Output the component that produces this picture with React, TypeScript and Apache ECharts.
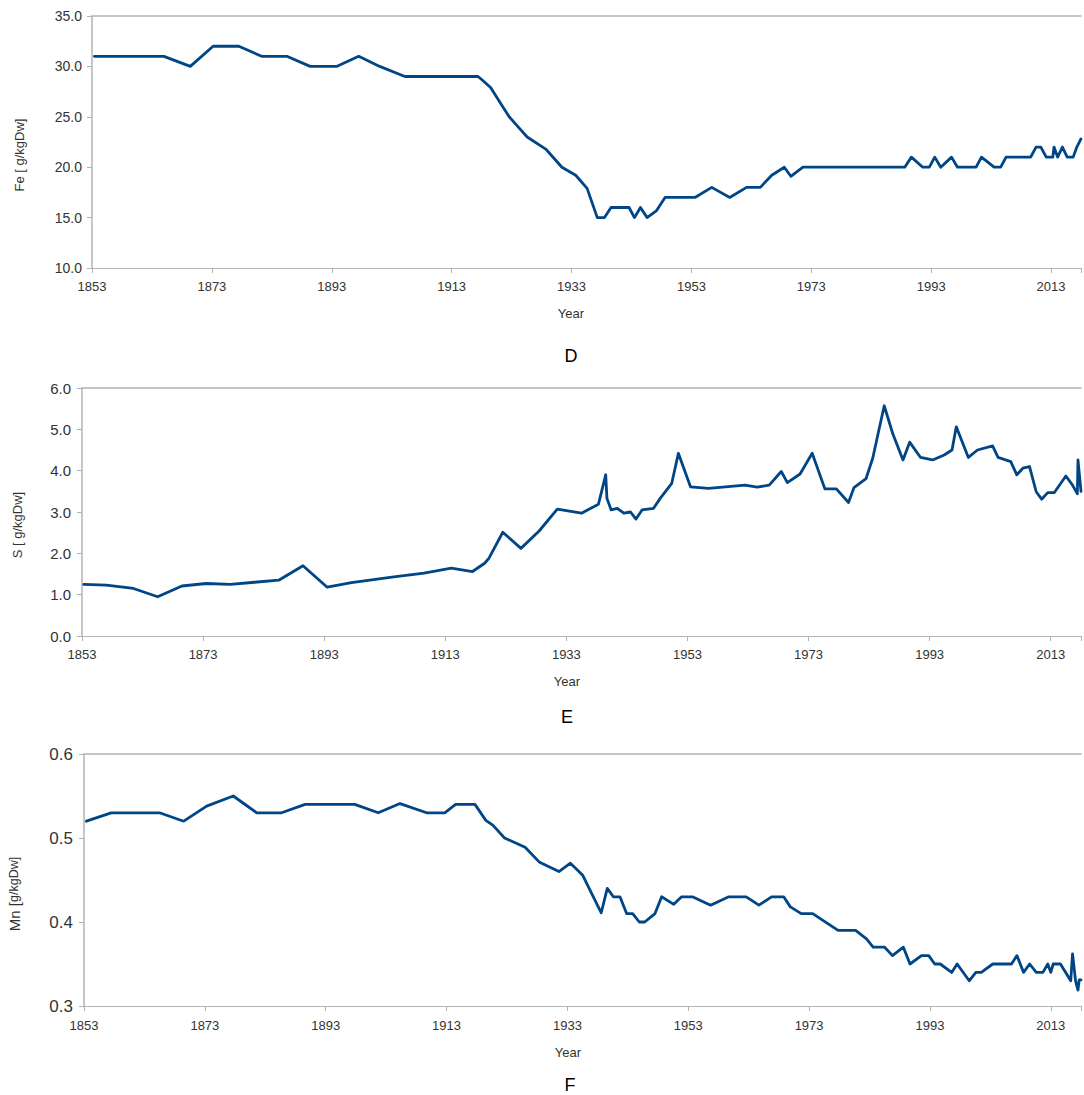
import React, { useEffect, useRef } from "react";
import * as echarts from "echarts";

// ---------- data ----------
const X_START = 1853;
const X_END = 2018;
const X_TICK_STEP = 20;

const FE_POINTS: [number, number][] = [
  [1853.4, 31], [1865, 31], [1869.4, 30], [1873.2, 32], [1877.5, 32], [1881.3, 31], [1885.5, 31],
  [1889.4, 30], [1893.8, 30], [1897.5, 31], [1901, 30], [1905.2, 29], [1917.4, 29], [1918, 28.7],
  [1919.5, 27.9], [1921, 26.5], [1922.6, 25], [1923.8, 24.2], [1925.6, 23], [1928.7, 21.8],
  [1931.4, 20], [1933.7, 19.2], [1935.6, 17.9], [1937.3, 15], [1938.5, 15], [1939.6, 16],
  [1942.6, 16], [1943.5, 15], [1944.5, 16], [1945.6, 15], [1947.2, 15.7], [1948.6, 17],
  [1953.6, 17], [1956.4, 18], [1959.4, 17], [1962.2, 18], [1964.5, 18], [1966.4, 19.2],
  [1968.5, 20], [1969.6, 19.1], [1971.6, 20], [1988.6, 20], [1989.7, 21], [1991.6, 20],
  [1992.7, 20], [1993.6, 21], [1994.6, 20], [1996.4, 21], [1997.4, 20], [2000.5, 20],
  [2001.4, 21], [2003.5, 20], [2004.6, 20], [2005.5, 21], [2009.6, 21], [2010.5, 22],
  [2011.3, 22], [2012.2, 21], [2013.3, 21], [2013.5, 22], [2014.1, 21], [2014.9, 22],
  [2015.7, 21], [2016.7, 21], [2017.3, 22], [2018, 22.8],
];

const S_POINTS: [number, number][] = [
  [1853.3, 1.25], [1857, 1.23], [1861.5, 1.15], [1865.5, 0.95], [1869.5, 1.21], [1873.5, 1.27],
  [1877.5, 1.25], [1881.5, 1.3], [1885.5, 1.35], [1889.5, 1.7], [1893.5, 1.18], [1897.5, 1.29],
  [1904.5, 1.43], [1909.5, 1.52], [1914, 1.64], [1917.5, 1.56], [1919.5, 1.76], [1920.2, 1.88],
  [1922.5, 2.51], [1925.5, 2.12], [1928.5, 2.54], [1931.5, 3.07], [1935.5, 2.97], [1938.3, 3.19],
  [1939.5, 3.9], [1939.7, 3.33], [1940.4, 3.05], [1941.4, 3.09], [1942.5, 2.97], [1943.6, 3.0],
  [1944.5, 2.83], [1945.5, 3.05], [1947.4, 3.09], [1948.5, 3.33], [1950.4, 3.69], [1951.5, 4.42],
  [1953.5, 3.61], [1956.5, 3.57], [1962.5, 3.65], [1964.5, 3.6], [1966.5, 3.65], [1968.5, 3.98],
  [1969.5, 3.71], [1971.6, 3.92], [1973.6, 4.42], [1975.7, 3.56], [1977.6, 3.56], [1979.6, 3.23],
  [1980.5, 3.59], [1982.5, 3.81], [1983.6, 4.3], [1985.5, 5.57], [1986.9, 4.9], [1988.6, 4.26],
  [1989.7, 4.69], [1991.5, 4.32], [1993.5, 4.26], [1995.4, 4.38], [1996.7, 4.5], [1997.4, 5.06],
  [1999.4, 4.32], [2000.9, 4.5], [2003.4, 4.6], [2004.3, 4.32], [2006.4, 4.22], [2007.4, 3.9],
  [2008.4, 4.06], [2009.5, 4.1], [2010.6, 3.49], [2011.5, 3.31], [2012.5, 3.47], [2013.6, 3.47],
  [2015.5, 3.87], [2016.6, 3.65], [2017.4, 3.44], [2017.5, 4.26], [2018, 3.5],
];

const MN_POINTS: [number, number][] = [
  [1853.4, 0.52], [1857.5, 0.53], [1865.5, 0.53], [1869.5, 0.52], [1873.3, 0.538], [1877.7, 0.55],
  [1881.6, 0.53], [1885.7, 0.53], [1889.6, 0.54], [1897.8, 0.54], [1901.7, 0.53], [1905.3, 0.541],
  [1909.7, 0.53], [1912.7, 0.53], [1914.5, 0.54], [1917.7, 0.54], [1919.5, 0.521], [1920.7, 0.515],
  [1922.6, 0.5], [1926, 0.489], [1928.4, 0.471], [1931.6, 0.46], [1933.5, 0.47], [1935.5, 0.456],
  [1938.6, 0.411], [1939.6, 0.44], [1940.6, 0.43], [1941.7, 0.43], [1942.8, 0.41], [1943.8, 0.41],
  [1944.9, 0.4], [1945.8, 0.4], [1947.5, 0.41], [1948.6, 0.43], [1950.6, 0.421], [1951.9, 0.43],
  [1953.7, 0.43], [1956.7, 0.42], [1959.7, 0.43], [1962.6, 0.43], [1964.7, 0.42], [1966.8, 0.43],
  [1968.8, 0.43], [1969.9, 0.418], [1971.7, 0.41], [1973.6, 0.41], [1976.1, 0.398], [1977.8, 0.39],
  [1980.7, 0.39], [1982.5, 0.38], [1983.6, 0.37], [1985.5, 0.37], [1986.8, 0.36], [1988.6, 0.37],
  [1989.7, 0.35], [1991.6, 0.36], [1992.8, 0.36], [1993.8, 0.35], [1994.7, 0.35], [1996.6, 0.34],
  [1997.5, 0.35], [1999.5, 0.33], [2000.6, 0.34], [2001.5, 0.34], [2003.4, 0.35], [2006.5, 0.35],
  [2007.4, 0.36], [2008.5, 0.34], [2009.5, 0.35], [2010.6, 0.34], [2011.7, 0.34], [2012.5, 0.35],
  [2013, 0.34], [2013.4, 0.35], [2014.6, 0.35], [2016.3, 0.33], [2016.6, 0.362], [2017.1, 0.33],
  [2017.5, 0.319], [2017.7, 0.331], [2018, 0.331],
];

const FE_Y = { min: 10, max: 35, interval: 5 };
const S_Y = { min: 0, max: 6, interval: 1 };
const MN_Y = { min: 0.3, max: 0.6, interval: 0.1 };

const X_TITLE = "Year";
const PANEL_LETTERS = ["D", "E", "F"];

// ---------- layout / style ----------
const LINE_COLOR = "#004586";
const AXIS_COLOR = "#b3b3b3";
const TEXT_COLOR = "#333333";
const FONT = "Liberation Sans, Arial, sans-serif";

type Panel = {
  points: [number, number][];
  y: { min: number; max: number; interval: number };
  left: number;
  top: number;
  height: number;
  yLabelSize: number;
  yLabelMargin: number;
  xLabelMargin: number;
  title: any;
  titleX: number;
  titleY: number;
  yearX: number;
  yearY: number;
  letterX: number;
  letterY: number;
};

const PANELS: Panel[] = [
  {
    points: FE_POINTS, y: FE_Y, left: 92, top: 16, height: 252,
    yLabelSize: 14, yLabelMargin: 10, xLabelMargin: 12,
    title: { text: "Fe [ g/kgDw]", fontSize: 13 },
    titleX: 19, titleY: 155, yearX: 571, yearY: 313, letterX: 571, letterY: 356,
  },
  {
    points: S_POINTS, y: S_Y, left: 82, top: 388, height: 248,
    yLabelSize: 15, yLabelMargin: 11, xLabelMargin: 12,
    title: { text: "S [ g/kgDw]", fontSize: 13 },
    titleX: 17, titleY: 525, yearX: 567, yearY: 681, letterX: 567, letterY: 717,
  },
  {
    points: MN_POINTS, y: MN_Y, left: 84, top: 754, height: 252,
    yLabelSize: 17, yLabelMargin: 11, xLabelMargin: 13,
    title: {
      text: "{a|Mn [}{b|g/kgDw]}",
      rich: {
        a: { fontSize: 15, fontFamily: FONT, fill: TEXT_COLOR },
        b: { fontSize: 12.5, fontFamily: FONT, fill: TEXT_COLOR },
      },
    },
    titleX: 14, titleY: 894, yearX: 568, yearY: 1052, letterX: 570, letterY: 1085,
  },
];

function buildOption() {
  const grid: any[] = [];
  const xAxis: any[] = [];
  const yAxis: any[] = [];
  const series: any[] = [];
  const graphic: any[] = [];

  PANELS.forEach((p, i) => {
    grid.push({ left: p.left, top: p.top, right: 0, height: p.height, containLabel: false });
    const span = X_END - X_START;
    xAxis.push({
      type: "value", gridIndex: i, min: 0, max: span, interval: X_TICK_STEP,
      axisLine: { show: true, lineStyle: { color: AXIS_COLOR, width: 1 } },
      axisTick: { show: true, length: 5, lineStyle: { color: AXIS_COLOR } },
      splitLine: { show: false },
      axisLabel: {
        margin: p.xLabelMargin, color: TEXT_COLOR, fontSize: 13, fontFamily: FONT,
        formatter: (v: number) => (Math.round(v) % X_TICK_STEP === 0 && v < span ? String(X_START + v) : ""),
      },
    });
    // top border line
    xAxis.push({
      type: "value", gridIndex: i, position: "top", min: 0, max: span,
      axisLine: { show: true, onZero: false, lineStyle: { color: AXIS_COLOR, width: 1.5 } },
      axisTick: { show: false }, axisLabel: { show: false }, splitLine: { show: false },
    });
    yAxis.push({
      type: "value", gridIndex: i, min: p.y.min, max: p.y.max, interval: p.y.interval,
      axisLine: { show: true, lineStyle: { color: AXIS_COLOR, width: 1.5 } },
      axisTick: { show: true, length: 5, lineStyle: { color: AXIS_COLOR } },
      splitLine: { show: false },
      axisLabel: {
        margin: p.yLabelMargin, color: TEXT_COLOR, fontSize: p.yLabelSize, fontFamily: FONT,
        formatter: (v: number) => v.toFixed(1),
      },
    });
    series.push({
      type: "line", xAxisIndex: i * 2, yAxisIndex: i, showSymbol: false, clip: true,
      data: p.points.map(([yr, v]) => [yr - X_START, v]),
      lineStyle: { color: LINE_COLOR, width: 2.8, join: "round", cap: "round" },
      emphasis: { disabled: true },
    });
    graphic.push({
      type: "text", x: p.titleX, y: p.titleY, rotation: Math.PI / 2,
      style: {
        ...p.title, fill: TEXT_COLOR, fontFamily: FONT,
        align: "center", verticalAlign: "middle",
      },
    });
    graphic.push({
      type: "text", x: p.yearX, y: p.yearY,
      style: { text: X_TITLE, fill: TEXT_COLOR, fontSize: 13, fontFamily: FONT, align: "center", verticalAlign: "middle" },
    });
    graphic.push({
      type: "text", x: p.letterX, y: p.letterY,
      style: { text: PANEL_LETTERS[i], fill: "#000", fontSize: 18, fontFamily: FONT, align: "center", verticalAlign: "middle" },
    });
  });

  return { animation: false, backgroundColor: "#fff", grid, xAxis, yAxis, series, graphic };
}

export default function App() {
  const ref = useRef<HTMLDivElement>(null);
  useEffect(() => {
    if (!ref.current) return;
    const chart = echarts.init(ref.current, undefined, { renderer: "svg" });
    chart.setOption(buildOption() as any);
    return () => chart.dispose();
  }, []);
  return (
    <div
      ref={ref}
      style={{ position: "absolute", left: 0, top: 0, width: 1084, height: 1095, background: "#fff" }}
    />
  );
}
